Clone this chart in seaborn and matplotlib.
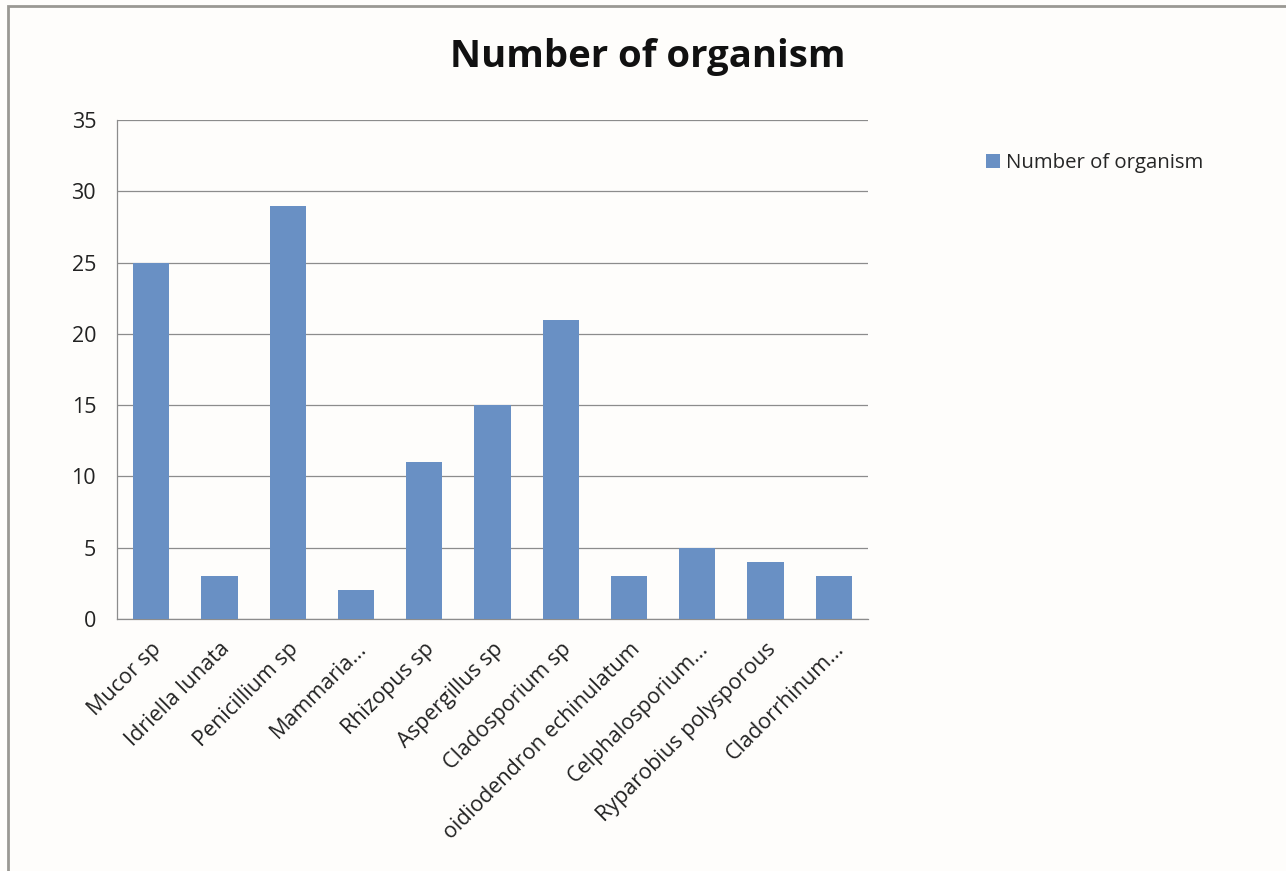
import matplotlib
matplotlib.use("Agg")
import matplotlib.pyplot as plt
import seaborn as sns
import numpy as np
import pandas as pd
from matplotlib.patches import Rectangle

# données
organismes = [
    "Mucor sp", "Idriella lunata", "Penicillium sp", "Mammaria...",
    "Rhizopus sp", "Aspergillus sp", "Cladosporium sp",
    "oidiodendron echinulatum", "Celphalosporium...",
    "Ryparobius polysporous", "Cladorrhinum...",
]
nombre = [25, 3, 29, 2, 11, 15, 21, 3, 5, 4, 3]
serie = "Number of organism"

df = pd.DataFrame({"organisme": organismes, "nombre": nombre})

sns.set_style("white")
plt.rcParams["font.family"] = ["Open Sans", "DejaVu Sans"]

bar_color = "#6990c4"
grid_color = "#8c8c8c"

fig = plt.figure(figsize=(12.86, 8.71), dpi=100)
fig.patch.set_facecolor("#fefdfb")
ax = fig.add_axes([117 / 1286, 1 - 619 / 871, 751 / 1286, 499 / 871])
ax.set_facecolor("#fefdfb")

sns.barplot(data=df, x="organisme", y="nombre", color=bar_color,
            saturation=1, linewidth=0, width=0.53, ax=ax, zorder=3,
            label=serie)

ax.set_ylim(0, 35)
ax.set_xlim(-0.5, len(organismes) - 0.5)
ax.set_yticks(np.arange(0, 36, 5))
ax.yaxis.grid(True, color=grid_color, linewidth=0.9)
ax.set_axisbelow(True)
ax.set_xlabel("")
ax.set_ylabel("")

for s in ["top", "right"]:
    ax.spines[s].set_visible(False)
for s in ["left", "bottom"]:
    ax.spines[s].set_color(grid_color)
    ax.spines[s].set_linewidth(0.9)

ax.tick_params(axis="y", length=7, color=grid_color, labelsize=15.5,
               labelcolor="#222222", pad=8)
ax.set_xticks(range(len(organismes)))
ax.set_xticklabels(organismes, rotation=45, ha="right",
                   rotation_mode="anchor", fontsize=15.5, color="#222222")
ax.tick_params(axis="x", which="major", length=0, pad=14)
ax.set_xticks(np.arange(-0.5, len(organismes), 1), minor=True)
ax.tick_params(axis="x", which="minor", length=7, color=grid_color)

fig.text(648 / 1286, 1 - 57 / 871, "Number of organism", ha="center",
         va="center", fontsize=27.5, fontweight="bold", color="#111111")

# légende à droite
leg = ax.legend(loc="upper left", bbox_to_anchor=(968 / 1286, 1 - 135 / 871),
                bbox_transform=fig.transFigure, frameon=False, fontsize=14.7,
                handlelength=0.65, handleheight=0.65, handletextpad=0.3)

# cadre gris autour du graphique
fig.patches.append(Rectangle((8 / 1286, -0.05), 1.2, 1 - 6 / 871 + 0.05,
                             transform=fig.transFigure, fill=False,
                             edgecolor="#9a9893", linewidth=2))

fig.savefig("out.png", dpi=100, facecolor=fig.get_facecolor())
